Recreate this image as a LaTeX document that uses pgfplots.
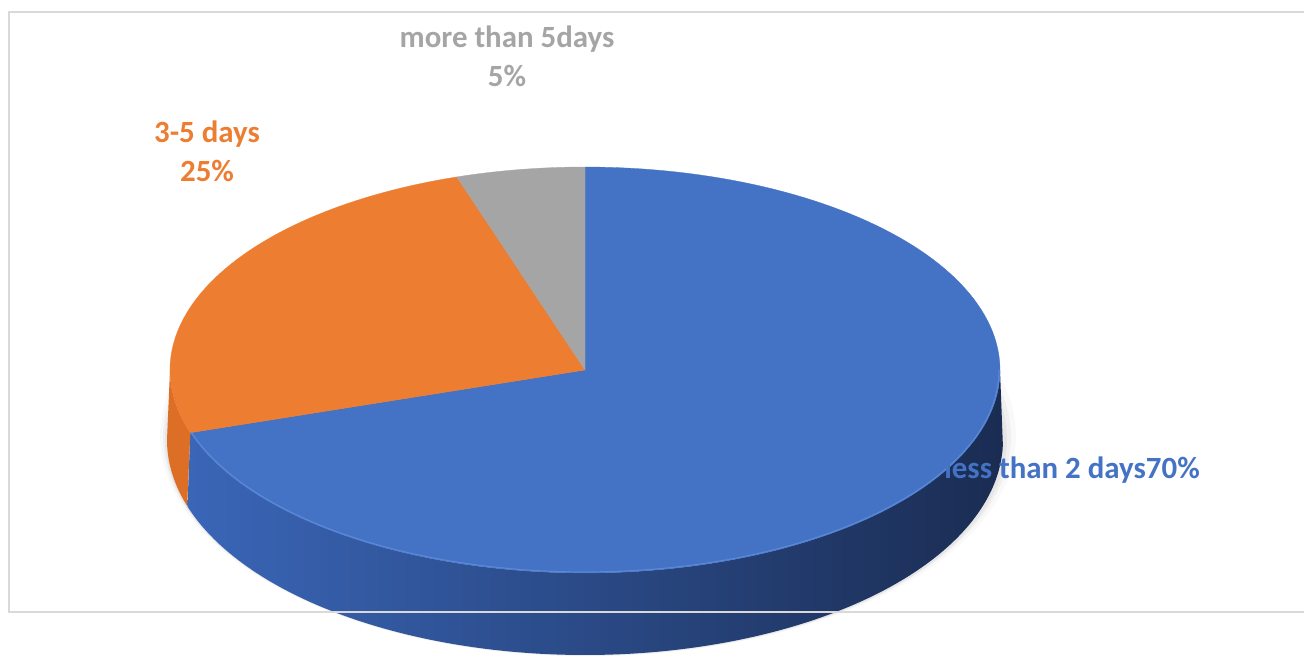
\documentclass[border=0pt]{standalone}
\usepackage{pgfplots}
\pgfplotsset{compat=1.18}
\usepackage{pgfplotstable}
\usepackage{fontspec}
\setmainfont{Carlito}
\definecolor{cblue}{HTML}{4472C4}
\definecolor{corange}{HTML}{ED7D31}
\definecolor{cgray}{HTML}{A5A5A5}
\definecolor{cbside1}{HTML}{3A66B8}
\definecolor{cbside2}{HTML}{2B4D8E}
\definecolor{cbside3}{HTML}{1A2C52}
\definecolor{coside}{HTML}{DC6E25}
\definecolor{cframe}{HTML}{D9D9D9}
\definecolor{crim}{HTML}{5A88D6}

\pgfplotstableread{
label value
less 70
mid 25
more 5
}\piedata
\pgfplotstablegetelem{0}{value}\of\piedata \pgfmathsetmacro\va{\pgfplotsretval}
\pgfplotstablegetelem{1}{value}\of\piedata \pgfmathsetmacro\vb{\pgfplotsretval}
\pgfplotstablegetelem{2}{value}\of\piedata \pgfmathsetmacro\vc{\pgfplotsretval}
\pgfmathsetmacro\azero{90}
\pgfmathsetmacro\aone{\azero-3.6*\va}
\pgfmathsetmacro\atwo{\aone-3.6*\vb}
\pgfmathsetmacro\athree{\atwo-3.6*\vc}
\pgfmathsetmacro\bsA{max(\aone,-180)}
\pgfmathsetmacro\bsB{min(\azero,0)}
\pgfmathsetmacro\osA{max(\atwo,-180)}
\pgfmathsetmacro\osB{min(\aone,0)}

% side band between top ellipse arc and bottom ellipse arc
\newcommand{\sideplot}[3]{%
  \addplot[#1, draw=none, domain=0:2, samples=241, variable=\t]
  ({(\t<=1)*(585+415*cos((#2)+((#3)-(#2))*\t)) + (\t>1)*(585+418*cos((#3)-((#3)-(#2))*(\t-1)))},
   {(\t<=1)*(288+203*sin((#2)+((#3)-(#2))*\t)) + (\t>1)*(218+215*sin((#3)-((#3)-(#2))*(\t-1)))}) -- cycle;
}
\newcommand{\topslice}[3]{%
  \addplot[fill=#1, draw=#1, line width=0.3pt, domain=#2:#3, samples=160]
  ({585+415*cos(x)}, {288+203*sin(x)}) -- (axis cs:585,288) -- cycle;
}

\begin{document}
\begin{tikzpicture}
\begin{axis}[
  width=1304bp, height=658bp, scale only axis,
  xmin=0, xmax=1304, ymin=0, ymax=658,
  hide axis, clip=false,
]
\path (axis cs:0,0) rectangle (axis cs:1304,658);
% soft shadow
\addplot[fill=black, fill opacity=0.025, draw=none, domain=0:360, samples=120] ({588+428*cos(x)}, {222+220*sin(x)}) -- cycle;
\addplot[fill=black, fill opacity=0.035, draw=none, domain=0:360, samples=120] ({587+424*cos(x)}, {221+218*sin(x)}) -- cycle;
\addplot[fill=black, fill opacity=0.045, draw=none, domain=0:360, samples=120] ({586+421*cos(x)}, {219+217*sin(x)}) -- cycle;
% sides
\sideplot{left color=cbside1, middle color=cbside2, right color=cbside3}{\bsA}{\bsB}
\sideplot{fill=coside}{\osA}{\osB}
% tops
\topslice{cblue}{\aone}{\azero}
\topslice{corange}{\atwo}{\aone}
\topslice{cgray}{\athree}{\atwo}
% rim highlight
\addplot[draw=crim, line width=1.2pt, domain=\bsA:\bsB, samples=120] ({585+414*cos(x)}, {288+202*sin(x)});
% frame
\draw[color=cframe, line width=1.6pt] (axis cs:1304,46) -- (axis cs:9,46) -- (axis cs:9,646) -- (axis cs:1304,646);
% labels
\node[anchor=base, text=cgray, font=\bfseries\fontsize{31}{36}\selectfont] at (axis cs:507,610) {more than 5days};
\node[anchor=base, text=cgray, font=\bfseries\fontsize{31}{36}\selectfont] at (axis cs:507,571) {5\%};
\node[anchor=base, text=corange, font=\bfseries\fontsize{31}{36}\selectfont] at (axis cs:207,515) {3-5 days};
\node[anchor=base, text=corange, font=\bfseries\fontsize{31}{36}\selectfont] at (axis cs:207,476) {25\%};
\node[anchor=base, text=cblue, font=\bfseries\fontsize{31}{36}\selectfont] at (axis cs:1072,180) {less than 2 days70\%};
\end{axis}
\pgfresetboundingbox
\path (current axis.south west) rectangle (current axis.north east);
\end{tikzpicture}
\end{document}
